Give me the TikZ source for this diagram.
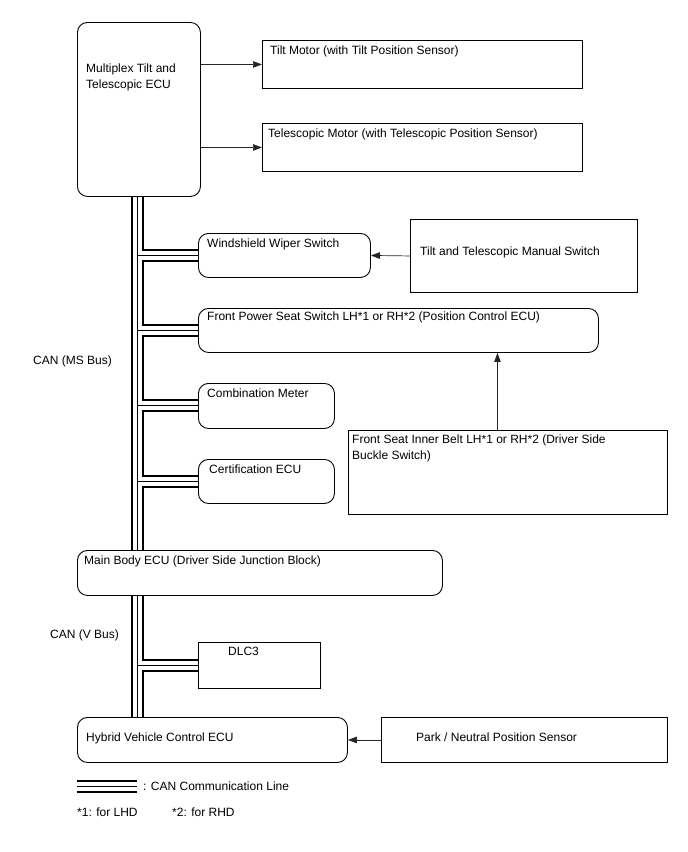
\documentclass[tikz,border=0pt]{standalone}
\usepackage{fontspec}
\setmainfont{Liberation Sans}
\usepackage{tikz}
\usetikzlibrary{arrows.meta,positioning}

\begin{document}
\begin{tikzpicture}[
  x=1pt, y=-1pt,
  every node/.style={font=\fontsize{12}{16}\selectfont, inner sep=0pt},
  ecubox/.style={draw, line width=0.9pt, rounded corners=10pt, anchor=north west},
  partbox/.style={draw, line width=0.9pt, anchor=north west},
  lbl/.style={anchor=base west, align=left},
  sig/.style={-{Triangle[length=9pt,width=6.5pt]}, draw=black!85, line width=0.7pt},
  canouter/.style={line width=13pt, black},
  canwhite/.style={line width=9pt, white},
  cancore/.style={line width=1pt, black}
]
\useasboundingbox (0,0) rectangle (688,852);
% ---- boxes ----
\node[ecubox, minimum width=123pt, minimum height=174pt] (ecu) at (77,22) {};
\node[partbox, minimum width=320pt, minimum height=48pt] (tilt) at (262,40) {};
\node[partbox, minimum width=320pt, minimum height=48pt] (tele) at (262,123) {};
\node[ecubox, minimum width=172pt, minimum height=44pt] (wiper) at (198,233) {};
\node[partbox, minimum width=227pt, minimum height=73pt] (manual) at (410,219) {};
\node[ecubox, minimum width=400pt, minimum height=44pt] (seat) at (198,308) {};
\node[ecubox, minimum width=136pt, minimum height=45pt] (meter) at (198,383) {};
\node[ecubox, minimum width=136pt, minimum height=44pt] (cert) at (198,459) {};
\node[partbox, minimum width=319pt, minimum height=84pt] (belt) at (348,430) {};
\node[ecubox, minimum width=365pt, minimum height=45pt] (body) at (77,550) {};
\node[partbox, minimum width=122pt, minimum height=46pt] (dlc) at (198,642) {};
\node[ecubox, minimum width=270pt, minimum height=45pt] (hybrid) at (77,717) {};
\node[partbox, minimum width=286pt, minimum height=45pt] (park) at (381,717) {};
% ---- box texts (two-line nodes sit on their last line) ----
\node[lbl] (ecu-txt) at (86,88) {Multiplex Tilt and\\Telescopic ECU};
\node[lbl] (tilt-txt) at (270,54) {Tilt Motor (with Tilt Position Sensor)};
\node[lbl] (tele-txt) at (268,137) {Telescopic Motor (with Telescopic Position Sensor)};
\node[lbl] (wiper-txt) at (207,247) {Windshield Wiper Switch};
\node[lbl] (manual-txt) at (420,255) {Tilt and Telescopic Manual Switch};
\node[lbl] (seat-txt) at (207,320) {Front Power Seat Switch LH*1 or RH*2 (Position Control ECU)};
\node[lbl] (meter-txt) at (207,397) {Combination Meter};
\node[lbl] (cert-txt) at (209,473) {Certification ECU};
\node[lbl] (belt-txt) at (352,459) {Front Seat Inner Belt LH*1 or RH*2 (Driver Side\\Buckle Switch)};
\node[lbl] (body-txt) at (84,564) {Main Body ECU (Driver Side Junction Block)};
\node[lbl] (dlc-txt) at (228,655) {DLC3};
\node[lbl] (hybrid-txt) at (86,741) {Hybrid Vehicle Control ECU};
\node[lbl] (park-txt) at (416,741) {Park / Neutral Position Sensor};
\node[lbl] (ms-txt) at (33,364) {CAN (MS Bus)};
\node[lbl] (v-txt) at (50,638) {CAN (V Bus)};
% ---- signal arrows ----
\draw[sig] (ecu.east |- tilt.west) -- (tilt.west);
\draw[sig] (ecu.east |- tele.west) -- (tele.west);
\draw[sig] (manual.west) -- (wiper.east);
\draw[sig] ([xshift=-10.5pt]belt.north) -- ([xshift=-10.5pt]belt.north |- seat.south);
\draw[sig] (park.west) -- (hybrid.east);
% ---- CAN lines, drawn in three layers ----
\coordinate (bus) at (137,0);
\coordinate (leg-a) at (77,786);
\coordinate (leg-b) at (137,786);
\foreach \layer in {canouter,canwhite,cancore} {
  \draw[\layer] (bus |- ecu.south) -- (bus |- body.north);
  \draw[\layer] (bus |- body.south) -- (bus |- hybrid.north);
  \foreach \dev in {wiper,seat,meter,cert,dlc}
    \draw[\layer] (bus |- \dev.west) -- (\dev.west);
  \draw[\layer] (leg-a) -- (leg-b);
}
% ---- legend ----
\node[lbl] (leg-txt) at (143,790) {: CAN Communication Line};
\node[lbl] (lhd-txt) at (77,816) {*1: for LHD};
\node[lbl] (rhd-txt) at (172,816) {*2: for RHD};
\end{tikzpicture}
\end{document}
